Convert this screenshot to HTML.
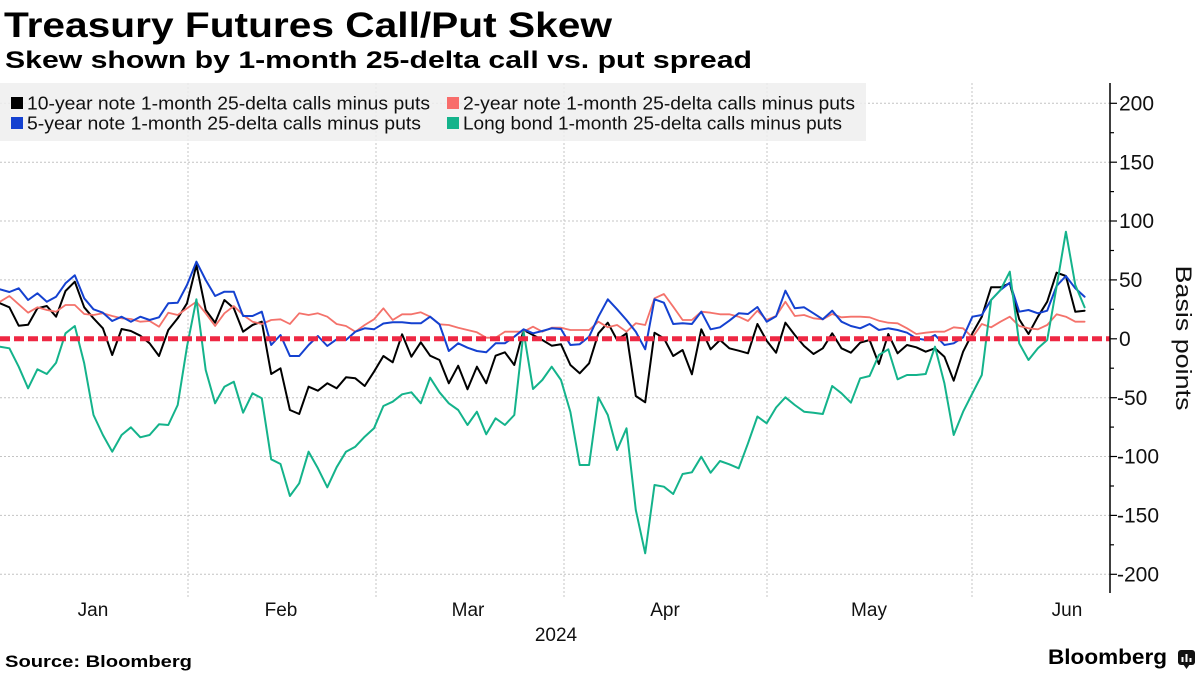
<!DOCTYPE html>
<html>
<head>
<meta charset="utf-8">
<style>
  html,body{margin:0;padding:0;background:#ffffff;}
  svg{display:block;}
</style>
</head>
<body>
<svg width="1200" height="675" viewBox="0 0 1200 675" xmlns="http://www.w3.org/2000/svg" font-family="'Liberation Sans', Arial, sans-serif">
  <rect x="0" y="0" width="1200" height="675" fill="#ffffff"/>

  <!-- Title -->
  <text x="4" y="37" font-size="35" font-weight="bold" fill="#000" textLength="608" lengthAdjust="spacingAndGlyphs">Treasury Futures Call/Put Skew</text>
  <text x="5" y="68" font-size="24.5" font-weight="bold" fill="#000" textLength="747" lengthAdjust="spacingAndGlyphs">Skew shown by 1-month 25-delta call vs. put spread</text>

  <!-- Horizontal gridlines -->
  <g stroke="#c4c4c4" stroke-width="1" stroke-dasharray="2,2">
    <line x1="0" y1="103.3" x2="1110" y2="103.3"/>
    <line x1="0" y1="162.2" x2="1110" y2="162.2"/>
    <line x1="0" y1="221" x2="1110" y2="221"/>
    <line x1="0" y1="279.9" x2="1110" y2="279.9"/>
    <line x1="0" y1="397.7" x2="1110" y2="397.7"/>
    <line x1="0" y1="456.5" x2="1110" y2="456.5"/>
    <line x1="0" y1="515.4" x2="1110" y2="515.4"/>
    <line x1="0" y1="574.3" x2="1110" y2="574.3"/>
  </g>
  <!-- Vertical gridlines -->
  <g stroke="#c4c4c4" stroke-width="1" stroke-dasharray="2,2">
    <line x1="188" y1="83" x2="188" y2="598"/>
    <line x1="376" y1="83" x2="376" y2="598"/>
    <line x1="564" y1="83" x2="564" y2="598"/>
    <line x1="767" y1="83" x2="767" y2="598"/>
    <line x1="972" y1="83" x2="972" y2="598"/>
  </g>

  <!-- Legend box -->
  <rect x="0" y="83" width="866" height="58" fill="#efefef" fill-opacity="0.85"/>
  <rect x="11" y="97" width="12" height="12" fill="#000000"/>
  <text x="27" y="109.5" font-size="18" fill="#111" textLength="403" lengthAdjust="spacingAndGlyphs">10-year note 1-month 25-delta calls minus puts</text>
  <rect x="11" y="117" width="12" height="12" fill="#1441d0"/>
  <text x="27" y="129.5" font-size="18" fill="#111" textLength="394" lengthAdjust="spacingAndGlyphs">5-year note 1-month 25-delta calls minus puts</text>
  <rect x="447" y="97" width="12" height="12" fill="#f86d6b"/>
  <text x="463" y="109.5" font-size="18" fill="#111" textLength="392" lengthAdjust="spacingAndGlyphs">2-year note 1-month 25-delta calls minus puts</text>
  <rect x="447" y="117" width="12" height="12" fill="#14b38b"/>
  <text x="463" y="129.5" font-size="18" fill="#111" textLength="379" lengthAdjust="spacingAndGlyphs">Long bond 1-month 25-delta calls minus puts</text>

  <!-- Series -->
  <g fill="none" stroke-linejoin="round" stroke-linecap="round">
    <polyline stroke="#000000" stroke-width="2" points="0,303.3 9.4,307.3 18.7,325.7 28.1,324.7 37.4,308.3 46.8,306 56.1,316.7 65.5,291 74.8,281.7 84.2,307.3 93.5,318.3 102.9,328.3 112.2,355 121.6,329 130.9,331 140.3,335.7 149.6,343.3 159,356 168.3,330 177.7,318.3 187,303.3 196.4,265 205.7,310 215.1,322.7 224.4,300 233.8,308.3 243.1,331.7 252.5,325 261.8,321.7 271.2,374 280.5,368.3 289.9,410 299.2,414 308.6,386.7 317.9,390.7 327.3,383.3 336.6,388.3 346,377.3 355.3,378.3 364.7,386 374,371.7 383.4,356 392.7,362.3 402.1,334.3 411.4,356.7 420.8,342.3 430.1,355.7 439.5,360 448.8,383.3 458.2,365.7 467.5,389.3 476.9,366.7 486.2,383.3 495.6,355.7 504.9,352.3 514.3,365 523.6,330 533,335 542.3,340 551.7,345.7 561,344.3 570.4,365 579.7,373.3 589.1,363.3 598.4,333.3 607.8,322.7 617.1,340 626.5,333.3 635.8,396 645.2,402.3 654.5,332.7 663.9,338.3 673.2,356 682.6,350 691.9,374.3 701.3,329.3 710.6,349.3 720,340 729.3,348.3 738.7,350.7 748,353.3 757.4,324 766.7,340.7 776.1,352.7 785.4,322.7 794.8,335 804.1,346 813.5,354 822.8,348.3 832.2,333.3 841.5,348.3 850.9,352.7 860.2,342.7 869.6,340 878.9,364 888.3,334 897.6,353.3 907,345 916.3,347.3 925.7,351.7 935,348.3 944.4,356.7 953.7,380.7 963.1,351.7 972.4,333.3 981.8,316.7 991.1,287.3 1000.5,287.3 1009.8,283.3 1019.2,319.3 1028.5,334 1037.9,316.7 1047.2,301.7 1056.6,272.7 1065.9,276 1075.3,311.7 1084.6,310.7"/>
    <polyline stroke="#f4726b" stroke-width="1.8" points="0,301.7 9.4,296 18.7,304.3 28.1,312.7 37.4,307.3 46.8,310 56.1,311.7 65.5,305 74.8,305 84.2,314 93.5,315 102.9,313.3 112.2,316 121.6,318.3 130.9,319 140.3,321.7 149.6,321 159,326.7 168.3,312.7 177.7,315 187,308.3 196.4,301.7 205.7,313.3 215.1,326 224.4,313.3 233.8,306 243.1,315 252.5,321.7 261.8,324 271.2,320 280.5,319.3 289.9,324 299.2,313.3 308.6,315 317.9,313.3 327.3,316.7 336.6,324 346,326 355.3,331.7 364.7,325 374,319.3 383.4,308.3 392.7,320 402.1,314.3 411.4,314.3 420.8,312.3 430.1,316.7 439.5,324.3 448.8,325 458.2,327.7 467.5,330 476.9,332.3 486.2,337.7 495.6,337.7 504.9,331.7 514.3,331.7 523.6,331.7 533,326.7 542.3,331.7 551.7,327.7 561,327.7 570.4,330 579.7,330 589.1,330 598.4,321.7 607.8,327.3 617.1,325 626.5,331.7 635.8,323.3 645.2,325 654.5,298.3 663.9,294 673.2,306.7 682.6,320 691.9,320 701.3,311.7 710.6,312.7 720,314.3 729.3,314.3 738.7,316.7 748,321 757.4,310.7 766.7,320 776.1,316 785.4,301.7 794.8,316 804.1,315 813.5,318.3 822.8,319.3 832.2,314 841.5,317.3 850.9,316.7 860.2,316.7 869.6,317.3 878.9,320.7 888.3,322.7 897.6,323.3 907,328.3 916.3,334 925.7,332.7 935,331.7 944.4,331.7 953.7,327.3 963.1,328.3 972.4,337.3 981.8,324 991.1,327.3 1000.5,321.7 1009.8,316.7 1019.2,326 1028.5,328.3 1037.9,329.3 1047.2,325 1056.6,314.3 1065.9,316.7 1075.3,321.7 1084.6,321.7"/>
    <polyline stroke="#1441d0" stroke-width="2" points="0,289.3 9.4,292 18.7,288.3 28.1,300 37.4,293.3 46.8,301.7 56.1,296.7 65.5,283.3 74.8,275.3 84.2,298.3 93.5,309.3 102.9,312.7 112.2,321 121.6,316.7 130.9,321.7 140.3,316.7 149.6,320 159,317.3 168.3,303.3 177.7,302.7 187,285 196.4,261.7 205.7,280 215.1,296 224.4,291.7 233.8,291.7 243.1,316 252.5,316 261.8,311.7 271.2,345 280.5,335 289.9,356 299.2,356 308.6,345 317.9,336 327.3,346 336.6,339.3 346,340 355.3,331.7 364.7,328.3 374,329.3 383.4,323.5 392.7,322.3 402.1,322.3 411.4,323.3 420.8,323.3 430.1,316.7 439.5,324.3 448.8,351 458.2,343.3 467.5,347.7 476.9,351 486.2,352.3 495.6,343.3 504.9,343.3 514.3,336.7 523.6,329.3 533,333.3 542.3,331 551.7,328.3 561,329 570.4,345 579.7,344.2 589.1,336.7 598.4,316.7 607.8,299.3 617.1,309.3 626.5,320 635.8,331.7 645.2,349.3 654.5,299.3 663.9,302.7 673.2,324 682.6,323.3 691.9,324 701.3,311.7 710.6,329.3 720,327.3 729.3,320.7 738.7,313.3 748,314 757.4,307 766.7,321.7 776.1,316.3 785.4,290.7 794.8,308.3 804.1,307.3 813.5,313.3 822.8,319.3 832.2,310.7 841.5,321.7 850.9,326 860.2,328.3 869.6,324 878.9,330 888.3,328.3 897.6,330 907,332.7 916.3,338.3 925.7,340 935,335 944.4,345 953.7,343.3 963.1,337.3 972.4,316.7 981.8,315 991.1,300 1000.5,290 1009.8,282.7 1019.2,311.7 1028.5,310 1037.9,313.3 1047.2,310.7 1056.6,286 1065.9,276 1075.3,288.3 1084.6,296.7"/>
    <polyline stroke="#14b38b" stroke-width="2" points="0,346.7 9.4,348.3 18.7,366.7 28.1,388.3 37.4,369.3 46.8,374 56.1,362.7 65.5,333.3 74.8,326 84.2,363.3 93.5,415 102.9,435 112.2,451.7 121.6,435 130.9,427.3 140.3,437.3 149.6,435 159,424.3 168.3,425 177.7,405 187,346.7 196.4,299.3 205.7,370 215.1,403.3 224.4,386.7 233.8,381.7 243.1,412.7 252.5,393.3 261.8,398.3 271.2,459.3 280.5,464 289.9,496 299.2,483.3 308.6,451.7 317.9,468.3 327.3,487.3 336.6,467.3 346,451.7 355.3,446.7 364.7,436.7 374,428.3 383.4,406 392.7,401.7 402.1,394.3 411.4,392.3 420.8,403.3 430.1,377.7 439.5,392.3 448.8,403.3 458.2,410 467.5,425 476.9,411.7 486.2,434.3 495.6,418.3 504.9,425 514.3,415 523.6,331.7 533,389 542.3,380 551.7,366.7 561,380 570.4,412 579.7,465 589.1,465 598.4,397.3 607.8,415 617.1,450 626.5,428.3 635.8,510 645.2,553.3 654.5,485 663.9,486.7 673.2,494 682.6,474 691.9,472.3 701.3,456.7 710.6,472.7 720,461 729.3,464.3 738.7,468.3 748,443.3 757.4,416.5 766.7,423.3 776.1,407.5 785.4,397.3 794.8,405 804.1,411.7 813.5,412.7 822.8,414 832.2,386 841.5,393.3 850.9,402.7 860.2,378.3 869.6,376 878.9,355 888.3,349.3 897.6,379.3 907,375 916.3,375 925.7,374 935,346.7 944.4,383.3 953.7,435 963.1,411.7 972.4,393.3 981.8,375 991.1,300 1000.5,290 1009.8,271.7 1019.2,343.3 1028.5,360 1037.9,348.3 1047.2,340 1056.6,286.7 1065.9,231.7 1075.3,285 1084.6,307.3"/>
  </g>

  <!-- Zero dashed line -->
  <line x1="0" y1="338.8" x2="1110" y2="338.8" stroke="#ee2843" stroke-width="5" stroke-dasharray="10,4"/>

  <!-- Y axis -->
  <line x1="1110" y1="83" x2="1110" y2="593" stroke="#000" stroke-width="1.5"/>
  <g stroke="#000" stroke-width="1.2">
    <line x1="1110" y1="103.3" x2="1117" y2="103.3"/>
    <line x1="1110" y1="162.2" x2="1117" y2="162.2"/>
    <line x1="1110" y1="221" x2="1117" y2="221"/>
    <line x1="1110" y1="279.9" x2="1117" y2="279.9"/>
    <line x1="1110" y1="338.8" x2="1117" y2="338.8"/>
    <line x1="1110" y1="397.7" x2="1117" y2="397.7"/>
    <line x1="1110" y1="456.5" x2="1117" y2="456.5"/>
    <line x1="1110" y1="515.4" x2="1117" y2="515.4"/>
    <line x1="1110" y1="574.3" x2="1117" y2="574.3"/>
    <line x1="1110" y1="132.7" x2="1114" y2="132.7"/>
    <line x1="1110" y1="191.6" x2="1114" y2="191.6"/>
    <line x1="1110" y1="250.5" x2="1114" y2="250.5"/>
    <line x1="1110" y1="309.3" x2="1114" y2="309.3"/>
    <line x1="1110" y1="368.2" x2="1114" y2="368.2"/>
    <line x1="1110" y1="427.1" x2="1114" y2="427.1"/>
    <line x1="1110" y1="486" x2="1114" y2="486"/>
    <line x1="1110" y1="544.8" x2="1114" y2="544.8"/>
  </g>
  <g font-size="21" fill="#111">
    <text x="1119" y="110.5">200</text>
    <text x="1119" y="169.4">150</text>
    <text x="1119" y="228.2">100</text>
    <text x="1119" y="287.1">50</text>
    <text x="1119" y="346">0</text>
    <text x="1117" y="404.9">-50</text>
    <text x="1117" y="463.7">-100</text>
    <text x="1117" y="522.6">-150</text>
    <text x="1117" y="581.5">-200</text>
  </g>
  <text transform="translate(1176,338) rotate(90)" text-anchor="middle" font-size="22" fill="#111" textLength="145" lengthAdjust="spacingAndGlyphs">Basis points</text>

  <!-- X axis labels -->
  <g font-size="19" fill="#111" text-anchor="middle">
    <text x="93" y="616">Jan</text>
    <text x="281" y="616">Feb</text>
    <text x="468" y="616">Mar</text>
    <text x="665" y="616">Apr</text>
    <text x="869" y="616">May</text>
    <text x="1067" y="616">Jun</text>
    <text x="556" y="641">2024</text>
  </g>

  <!-- Footer -->
  <text x="5" y="667" font-size="17" font-weight="bold" fill="#000" textLength="187" lengthAdjust="spacingAndGlyphs">Source: Bloomberg</text>
  <text x="1048" y="664" font-size="21" font-weight="bold" fill="#000" textLength="119" lengthAdjust="spacingAndGlyphs">Bloomberg</text>
  <g>
    <rect x="1178" y="650" width="17" height="15" rx="3" fill="#111"/>
    <polygon points="1183,664 1190,664 1186.5,669" fill="#111"/>
    <rect x="1181.5" y="657" width="2" height="5" fill="#fff"/>
    <rect x="1185.5" y="654" width="2" height="8" fill="#fff"/>
    <rect x="1189.5" y="658" width="2" height="4" fill="#fff"/>
  </g>
</svg>
</body>
</html>
